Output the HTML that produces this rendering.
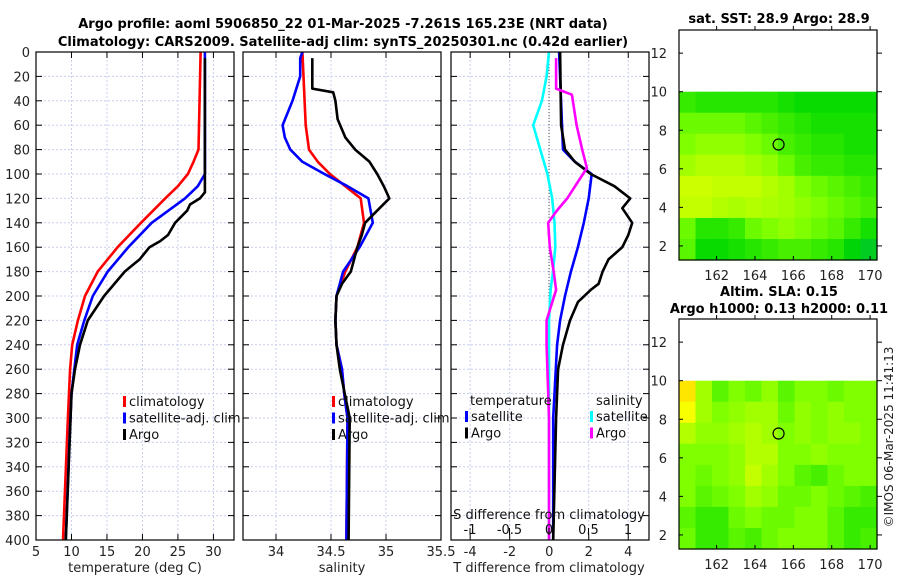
<!DOCTYPE html>
<html><head><meta charset="utf-8"><style>
body{margin:0;background:#fff;}
svg{display:block;font-family:"DejaVu Sans","Liberation Sans",sans-serif;}
</style></head><body>
<svg id="fig" width="900" height="580" viewBox="0 0 900 580" xmlns="http://www.w3.org/2000/svg">
<g id="titles" font-weight="bold" font-size="13" text-anchor="middle">
<text x="343" y="28">Argo profile: aoml 5906850_22 01-Mar-2025 -7.261S 165.23E (NRT data)</text>
<text x="343" y="46">Climatology: CARS2009. Satellite-adj clim: synTS_20250301.nc (0.42d earlier)</text>
<text x="779" y="23">sat. SST: 28.9 Argo: 28.9</text>
<text x="779" y="296">Altim. SLA: 0.15</text>
<text x="779" y="313">Argo h1000: 0.13 h2000: 0.11</text>
</g>
<text x="0" y="0" font-size="12" fill="#222" text-anchor="middle" transform="translate(893,437) rotate(-90)">©IMOS 06-Mar-2025 11:41:13</text>
</svg>
<script>
// depth levels (dbar)
const tClimD=[0,80,90,100,110,120,140,160,180,200,220,240,260,300,400];
const tClimV=[28.2,27.9,27.2,26.4,25,23.2,19.8,16.5,13.7,11.9,10.9,10.1,9.8,9.5,8.8];
const tSatD=[0,100,110,120,140,160,180,200,220,240,280,320,400];
const tSatV=[28.8,28.8,27.8,26,21.3,18,15.1,13,11.8,10.8,10,9.7,9.2];
const tArgoD=[5,115,120,125,130,140,150,155,160,170,180,200,220,240,260,280,400];
const tArgoV=[28.8,28.8,28.1,26.7,26.3,24.6,23.6,22.5,21,19.6,17.5,14.6,12.3,11.2,10.5,10,9.2];
const sClimD=[0,60,80,90,100,110,120,140,160,180,200,220,240,260,280,300,400];
const sClimV=[34.24,34.27,34.3,34.38,34.49,34.63,34.77,34.8,34.74,34.63,34.55,34.54,34.55,34.6,34.62,34.65,34.64];
const sSatD=[0,5,20,40,60,70,80,90,100,110,120,140,160,180,200,220,240,260,280,300,400];
const sSatV=[34.24,34.22,34.22,34.15,34.06,34.08,34.13,34.24,34.44,34.65,34.84,34.88,34.76,34.61,34.55,34.54,34.55,34.6,34.62,34.65,34.64];
const sArgoD=[5,30,33,40,55,70,80,90,100,110,120,130,140,150,160,180,190,200,220,240,260,300,400];
const sArgoV=[34.33,34.33,34.52,34.54,34.56,34.63,34.72,34.85,34.92,34.98,35.03,34.92,34.81,34.78,34.74,34.68,34.6,34.55,34.54,34.55,34.58,34.67,34.66];
const dTSatD=[0,80,90,100,120,140,160,180,200,220,240,300,400];
const dTSatV=[0.5,0.7,1.3,2.15,2.0,1.75,1.45,1.1,0.8,0.55,0.4,0.2,0.2];
const dTArgoD=[0,60,80,90,100,110,120,128,140,150,160,170,180,190,195,205,220,240,260,300,400];
const dTArgoV=[0.55,0.6,0.8,1.3,2.1,3.3,4.1,3.7,4.2,4.0,3.7,3.0,2.7,2.5,2.1,1.45,1.05,0.7,0.45,0.35,0.2];
const dSSatD=[0,20,40,60,80,100,120,140,160,180,195,220,300,400];
const dSSatV=[0,-0.03,-0.09,-0.2,-0.11,-0.02,0.04,0.07,0.08,0.05,0.02,0.0,0.0,0.0];
const dSArgoD=[5,30,35,60,80,95,100,120,130,140,160,180,195,220,240,300,400];
const dSArgoV=[0.09,0.09,0.29,0.35,0.42,0.48,0.43,0.23,0.1,-0.01,0.01,0.06,0.09,-0.03,-0.03,0.0,0.0];
const depthTicks=[0,20,40,60,80,100,120,140,160,180,200,220,240,260,280,300,320,340,360,380,400];
const tTicks=[5,10,15,20,25,30];
const sTicks=[34,34.5,35,35.5];
const sTickLabels=["34","34.5","35","35.5"];
const dtTicks=[-4,-2,0,2,4];
const dsTicks=[-1,-0.5,0,0.5,1];
const dsTickLabels=["-1","-0.5","0","0.5","1"];
const lonTicks=[162,164,166,168,170];
const latTicks=[2,4,6,8,10,12];
// map fields, rows from lat 10 (top) down to lat 1.27
const sstGrid=[
[.3,.25,.25,.25,.25,.25,.2,.15,.15,.15,.15,.15],
[.45,.45,.45,.45,.4,.35,.3,.25,.2,.2,.2,.2],
[.5,.55,.55,.55,.5,.45,.35,.3,.25,.25,.2,.2],
[.6,.65,.65,.65,.6,.55,.45,.35,.3,.3,.25,.25],
[.72,.72,.7,.7,.7,.65,.6,.5,.45,.4,.35,.3],
[.7,.7,.65,.62,.65,.62,.6,.55,.5,.45,.4,.35],
[.45,.25,.25,.3,.45,.5,.55,.5,.45,.4,.3,.2],
[.4,.15,.15,.2,.25,.3,.35,.35,.3,.25,.1,0]];
const slaGrid=[
[.95,.6,.4,.5,.45,.55,.4,.5,.5,.45,.5,.5],
[.85,.6,.5,.55,.6,.6,.45,.55,.5,.55,.5,.5],
[.65,.55,.55,.6,.65,.6,.5,.55,.5,.55,.55,.5],
[.5,.5,.5,.55,.65,.65,.5,.5,.55,.5,.5,.5],
[.5,.45,.5,.55,.7,.6,.5,.4,.35,.45,.5,.5],
[.5,.4,.45,.5,.6,.55,.45,.45,.5,.45,.4,.35],
[.4,.3,.3,.45,.5,.45,.45,.5,.5,.4,.3,.3],
[.45,.3,.3,.4,.35,.45,.5,.5,.5,.4,.3,.35]];
const argoLon=165.23, argoLat=7.26;

const NS="http://www.w3.org/2000/svg";
const svg=document.getElementById('fig');
function mk(tag,attrs,parent){const e=document.createElementNS(NS,tag);for(const k in attrs)e.setAttribute(k,attrs[k]);(parent||svg).appendChild(e);return e;}
const yTop=52,yBot=540;
const yD=d=>yTop+(d/400)*(yBot-yTop);

function panel(name,x0,x1,xmin,xmax){
  const g=mk('g',{});
  
  
  const sx=v=>x0+(v-xmin)/(xmax-xmin)*(x1-x0);
  return {g,sx,x0,x1};
}
function frame(p,xt,labels,showY){
  const g=p.g;
  depthTicks.forEach(d=>{
    const y=yD(d);
    const gl=mk('line',{x1:p.x0,x2:p.x1,y1:y,y2:y,stroke:'#c9cff0','stroke-dasharray':'2,2','stroke-width':1},g);
    
    
    mk('line',{x1:p.x0,x2:p.x0+6,y1:y,y2:y,stroke:'#000'},g);
    mk('line',{x1:p.x1-6,x2:p.x1,y1:y,y2:y,stroke:'#000'},g);
    if(showY){const t=mk('text',{x:p.x0-6,y:y+5,'font-size':13,'text-anchor':'end',fill:'#222'},g);t.textContent=d;
      
      }
  });
  xt.forEach((v,i)=>{
    const x=p.sx(v);
    const gl=mk('line',{x1:x,x2:x,y1:yTop,y2:yBot,stroke:'#c9cff0','stroke-dasharray':'2,2'},g);
    
    
    mk('line',{x1:x,x2:x,y1:yBot,y2:yBot-6,stroke:'#000'},g);
    mk('line',{x1:x,x2:x,y1:yTop,y2:yTop+6,stroke:'#000'},g);
    const t=mk('text',{x:x,y:556,'font-size':13,'text-anchor':'middle',fill:'#222'},g);t.textContent=labels[i];
    
    
  });
}
function box(p){const r=mk('rect',{x:p.x0,y:yTop,width:p.x1-p.x0,height:yBot-yTop,fill:'none',stroke:'#000','stroke-width':1.2},p.g);
  
  }
function line(p,ds,vs,color,name,sx){
  const f=sx||p.sx;
  const pts=ds.map((d,i)=>f(vs[i]).toFixed(1)+','+yD(d).toFixed(1)).join(' ');
  const l=mk('polyline',{points:pts,fill:'none',stroke:color,'stroke-width':2.6,'stroke-linejoin':'round'},p.g);
  
  
}
function legend(g,x,y,items){
  items.forEach((it,i)=>{
    mk('rect',{x:x,y:y+i*16.5-10,width:3,height:11,fill:it[1]},g);
    const t=mk('text',{x:x+6,y:y+i*16.5,'font-size':13,fill:'#111'},g);t.textContent=it[0];
    
    
  });
}
// Panel 1 temperature
const p1=panel('temperature-panel',36,234,5,32.9);
frame(p1,tTicks,tTicks.map(String),true);
line(p1,tClimD,tClimV,'#f00','temp-climatology-line');
line(p1,tSatD,tSatV,'#00f','temp-satellite-line');
line(p1,tArgoD,tArgoV,'#000','temp-argo-line');
box(p1);
legend(p1.g,123,406,[['climatology','#f00'],['satellite-adj. clim','#00f'],['Argo','#000']]);
let t=mk('text',{x:135,y:572,'font-size':13,'text-anchor':'middle',fill:'#222'},p1.g);t.textContent='temperature (deg C)';


// Panel 2 salinity
const p2=panel('salinity-panel',243,441,33.7,35.5);
frame(p2,sTicks,sTickLabels,false);
line(p2,sClimD,sClimV,'#f00','sal-climatology-line');
line(p2,sSatD,sSatV,'#00f','sal-satellite-line');
line(p2,sArgoD,sArgoV,'#000','sal-argo-line');
box(p2);
legend(p2.g,332,406,[['climatology','#f00'],['satellite-adj. clim','#00f'],['Argo','#000']]);
t=mk('text',{x:342,y:572,'font-size':13,'text-anchor':'middle',fill:'#222'},p2.g);t.textContent='salinity';


// Panel 3 differences
const p3=panel('difference-panel',451,649,-4.97,5.05);
const sxS=v=>549+v*79;
frame(p3,dtTicks,dtTicks.map(String),false);
const zl=mk('line',{x1:549,x2:549,y1:yTop,y2:yBot,stroke:'#555','stroke-dasharray':'1,2'},p3.g);


line(p3,dSSatD,dSSatV,'#0ff','dsal-satellite-line',sxS);
line(p3,dTSatD,dTSatV,'#00f','dtemp-satellite-line');
line(p3,dTArgoD,dTArgoV,'#000','dtemp-argo-line');
line(p3,dSArgoD,dSArgoV,'#f0f','dsal-argo-line',sxS);
box(p3);
t=mk('text',{x:470,y:405,'font-size':13,fill:'#111'},p3.g);t.textContent='temperature';


t=mk('text',{x:596,y:405,'font-size':13,fill:'#111'},p3.g);t.textContent='salinity';


legend(p3.g,465,421,[['satellite','#00f'],['Argo','#000']]);
legend(p3.g,590,421,[['satellite','#0ff'],['Argo','#f0f']]);
t=mk('text',{x:549,y:519,'font-size':13,'text-anchor':'middle',fill:'#111'},p3.g);t.textContent='S difference from climatology';


dsTicks.forEach((v,i)=>{const x=sxS(v);
  mk('line',{x1:x,x2:x,y1:528,y2:535,stroke:'#000'},p3.g);
  const tt=mk('text',{x:x,y:534,'font-size':13,'text-anchor':'middle',fill:'#111'},p3.g);tt.textContent=dsTickLabels[i];
  
  });
t=mk('text',{x:549,y:572,'font-size':13,'text-anchor':'middle',fill:'#222'},p3.g);t.textContent='T difference from climatology';



// Maps
function color(v){const h=130-v*80;const l=Math.min(50,40+v*20);return `hsl(${h.toFixed(0)},100%,${l.toFixed(0)}%)`;}
function map(name,top,grid){
  const g=mk('g',{});
  
  
  const x0=679,x1=877,bot=top+230;
  const sx=lon=>x0+(lon-160.04)/(170.36-160.04)*(x1-x0);
  const sy=lat=>bot-(lat-1.27)/(13.2-1.27)*230;
  const rows=grid.length,cols=grid[0].length;
  const cw=(x1-x0)/cols,ch=(sy(1.27)-sy(10))/rows;
  grid.forEach((r,i)=>r.forEach((v,j)=>{
    const c=mk('rect',{x:x0+j*cw,y:sy(10)+i*ch,width:cw+0.6,height:ch+0.6,fill:color(v)},g);
    
    
  }));
  const ci=mk('circle',{cx:sx(argoLon),cy:sy(argoLat),r:5.5,fill:'none',stroke:'#000','stroke-width':1.2},g);
  
  
  const fr=mk('rect',{x:x0,y:top,width:x1-x0,height:230,fill:'none',stroke:'#000','stroke-width':1.2},g);
  
  
  latTicks.forEach(l=>{const y=sy(l);
    mk('line',{x1:x0,x2:x0+4,y1:y,y2:y,stroke:'#000'},g);mk('line',{x1:x1,x2:x1+5,y1:y,y2:y,stroke:'#000'},g);
    const tt=mk('text',{x:x0-12,y:y+5,'font-size':13,'text-anchor':'end',fill:'#222'},g);tt.textContent=l;
    
    });
  lonTicks.forEach(l=>{const x=sx(l);
    mk('line',{x1:x,x2:x,y1:bot,y2:bot-4,stroke:'#000'},g);mk('line',{x1:x,x2:x,y1:top,y2:top-4,stroke:'#000'},g);
    const tt=mk('text',{x:x,y:bot+20,'font-size':13,'text-anchor':'middle',fill:'#222'},g);tt.textContent=l;
    
    });
}
map('sst-map',30,sstGrid);
map('sla-map',319,slaGrid);
</script>
</body></html>
